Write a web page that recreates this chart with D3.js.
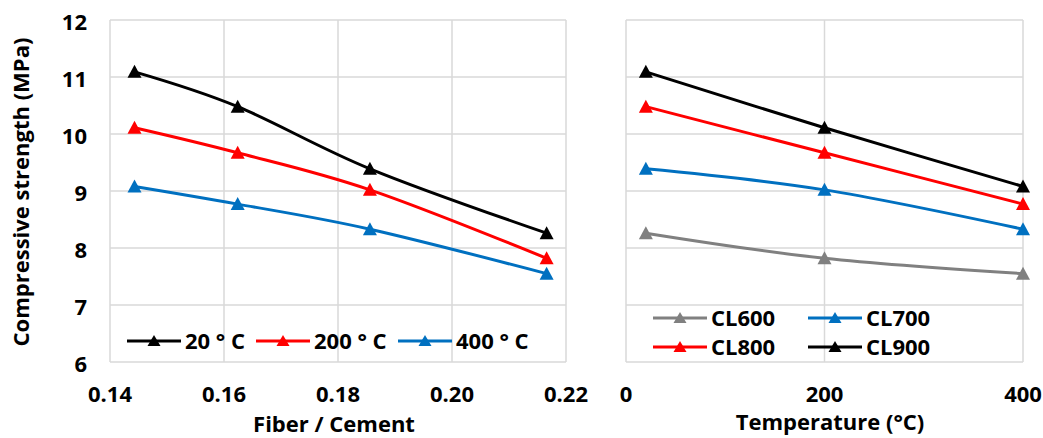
<!DOCTYPE html>
<html><head><meta charset="utf-8">
<script src="https://cdn.jsdelivr.net/npm/d3@7"></script>
<style>
body{margin:0;background:#fff;}
text{font-family:"Open Sans",sans-serif;font-weight:bold;fill:#000;}
</style></head>
<body><svg id="c" width="1043" height="438"></svg>
<script>
// Left panel data
const fiberRatios = [0.1443, 0.1624, 0.1856, 0.2166];
const leftSeriesNames = ["20 ° C", "200 ° C", "400 ° C"];
const strength20 = [11.09, 10.48, 9.39, 8.26];
const strength200 = [10.11, 9.67, 9.02, 7.82];
const strength400 = [9.08, 8.77, 8.33, 7.55];
const leftXTicks = [0.14, 0.16, 0.18, 0.20, 0.22];
// Right panel data
const temperatures = [20, 200, 400];
const rightSeriesNames = ["CL600", "CL700", "CL800", "CL900"];
const cl600 = [8.26, 7.82, 7.55];
const cl700 = [9.39, 9.02, 8.33];
const cl800 = [10.48, 9.67, 8.77];
const cl900 = [11.09, 10.11, 9.08];
const rightXTicks = [0, 200, 400];
const yTicks = [6, 7, 8, 9, 10, 11, 12];

const svg = d3.select("#c");
const grid = "#d9d9d9";
const fs = 22;
const plotTop = 20, plotBottom = 362;
const y = d3.scaleLinear().domain([6, 12]).range([plotBottom, plotTop]);
const xL = d3.scaleLinear().domain([0.14, 0.22]).range([110, 566]);
const xR = d3.scaleLinear().domain([0, 400]).range([626, 1023]);
const tri = "M0,-7L7,6L-7,6Z";

function panel(x, xticks, fmt, series, showY) {
  const g = svg.append("g");
  g.append("g").selectAll("line").data(yTicks).join("line")
    .attr("x1", x.range()[0]).attr("x2", x.range()[1])
    .attr("y1", d => y(d)).attr("y2", d => y(d))
    .attr("stroke", grid).attr("stroke-width", 1.5);
  g.append("g").selectAll("line").data(xticks).join("line")
    .attr("x1", d => x(d)).attr("x2", d => x(d))
    .attr("y1", plotTop).attr("y2", plotBottom)
    .attr("stroke", grid).attr("stroke-width", 1.5);
  g.append("g").selectAll("text").data(xticks).join("text")
    .attr("x", d => x(d)).attr("y", 402).attr("text-anchor", "middle")
    .attr("font-size", fs).text(fmt);
  if (showY) {
    g.append("g").selectAll("text").data(yTicks).join("text")
      .attr("x", 87).attr("y", d => y(d) + 10).attr("text-anchor", "end")
      .attr("font-size", fs).text(d => d);
  }
  const line = d3.line().x(d => x(d[0])).y(d => y(d[1])).curve(d3.curveCardinal.tension(0));
  series.forEach(s => {
    const pts = s.xs.map((v, i) => [v, s.ys[i]]);
    g.append("path").attr("d", line(pts)).attr("fill", "none")
      .attr("stroke", s.color).attr("stroke-width", 3);
    g.append("g").selectAll("path").data(pts).join("path")
      .attr("d", tri).attr("transform", d => `translate(${x(d[0])},${y(d[1])})`)
      .attr("fill", s.color);
  });
}

const leftSeries = [
  {name: leftSeriesNames[0], xs: fiberRatios, ys: strength20, color: "#000000"},
  {name: leftSeriesNames[1], xs: fiberRatios, ys: strength200, color: "#ff0000"},
  {name: leftSeriesNames[2], xs: fiberRatios, ys: strength400, color: "#0070c0"}
];
const rightSeries = [
  {name: rightSeriesNames[0], xs: temperatures, ys: cl600, color: "#808080"},
  {name: rightSeriesNames[1], xs: temperatures, ys: cl700, color: "#0070c0"},
  {name: rightSeriesNames[2], xs: temperatures, ys: cl800, color: "#ff0000"},
  {name: rightSeriesNames[3], xs: temperatures, ys: cl900, color: "#000000"}
];
panel(xL, leftXTicks, d3.format(".2f"), leftSeries, true);
panel(xR, rightXTicks, d3.format("d"), rightSeries, false);

function legendItem(x0, yy, s) {
  const g = svg.append("g");
  g.append("line").attr("x1", x0).attr("x2", x0 + 54).attr("y1", yy).attr("y2", yy)
    .attr("stroke", s.color).attr("stroke-width", 3);
  g.append("path").attr("d", "M0,-6L6.5,5L-6.5,5Z").attr("transform", `translate(${x0 + 27},${yy})`).attr("fill", s.color);
  g.append("text").attr("x", x0 + 58).attr("y", yy + 8).attr("font-size", fs).text(s.name);
}
legendItem(127, 341, leftSeries[0]);
legendItem(256, 341, leftSeries[1]);
legendItem(398, 341, leftSeries[2]);
legendItem(653, 318, rightSeries[0]);
legendItem(808, 318, rightSeries[1]);
legendItem(653, 347, rightSeries[2]);
legendItem(808, 347, rightSeries[3]);

svg.append("text").attr("transform", "translate(29,192) rotate(-90)")
  .attr("text-anchor", "middle").attr("font-size", fs).text("Compressive strength (MPa)");
svg.append("text").attr("x", 334).attr("y", 432).attr("text-anchor", "middle")
  .attr("font-size", fs).text("Fiber / Cement");
svg.append("text").attr("x", 830).attr("y", 430).attr("text-anchor", "middle")
  .attr("font-size", fs).text("Temperature (°C)");
</script></body></html>
